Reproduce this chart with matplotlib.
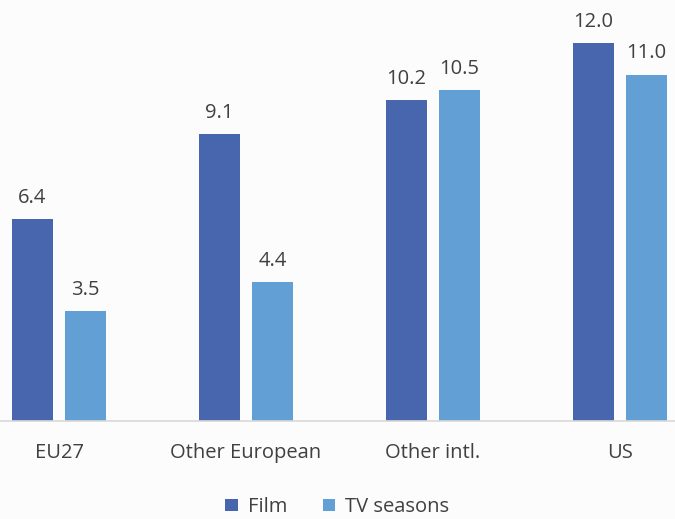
import numpy as np
import matplotlib.pyplot as plt
from matplotlib.patches import Patch

# Données
categories = ["EU27", "Other European", "Other intl.", "US"]
film = [6.4, 9.1, 10.2, 12.0]
tv_seasons = [3.5, 4.4, 10.5, 11.0]

cor_film = "#4866AE"
cor_tv = "#619FD4"
cor_texto = "#404040"

plt.rcParams["font.family"] = ["Open Sans", "DejaVu Sans"]

fig = plt.figure(figsize=(6.75, 5.19), dpi=100)
fig.patch.set_facecolor("#fcfcfc")
ax = fig.add_axes([0, 98 / 519, 1, 421 / 519])
ax.set_facecolor("#fcfcfc")

x = np.arange(len(categories))
largura = 0.219
desloc = 0.1417

barras_film = ax.bar(x - desloc, film, largura, color=cor_film, label="Film")
barras_tv = ax.bar(x + desloc, tv_seasons, largura, color=cor_tv, label="TV seasons")

# Rótulos dos valores acima das barras
for barras in (barras_film, barras_tv):
    for b in barras:
        ax.annotate(f"{b.get_height():.1f}", (b.get_x() + b.get_width() / 2, b.get_height()),
                    xytext=(0, 8), textcoords="offset points", ha="center", va="bottom",
                    fontsize=14.5, color=cor_texto)

ax.set_xlim(-59 / 187, (675 - 59) / 187)
ax.set_ylim(0, 421 / 31.5)

for lado in ["top", "right", "left"]:
    ax.spines[lado].set_visible(False)
ax.spines["bottom"].set_color("#d9d9d9")
ax.spines["bottom"].set_linewidth(1.2)

ax.set_yticks([])
ax.set_xticks(x)
ax.set_xticklabels(categories, fontsize=14.5, color=cor_texto)
ax.tick_params(axis="x", length=0, pad=16)

# Legenda embaixo
elementos = [Patch(facecolor=cor_film, label="Film"), Patch(facecolor=cor_tv, label="TV seasons")]
fig.legend(handles=elementos, loc="center", bbox_to_anchor=(0.5, 1 - 507 / 519), ncol=2,
           frameon=False, fontsize=14.5, labelcolor=cor_texto, handlelength=0.6, handleheight=0.6,
           handletextpad=0.5, columnspacing=1.8)

plt.savefig("out.png", dpi=100, facecolor=fig.get_facecolor())
